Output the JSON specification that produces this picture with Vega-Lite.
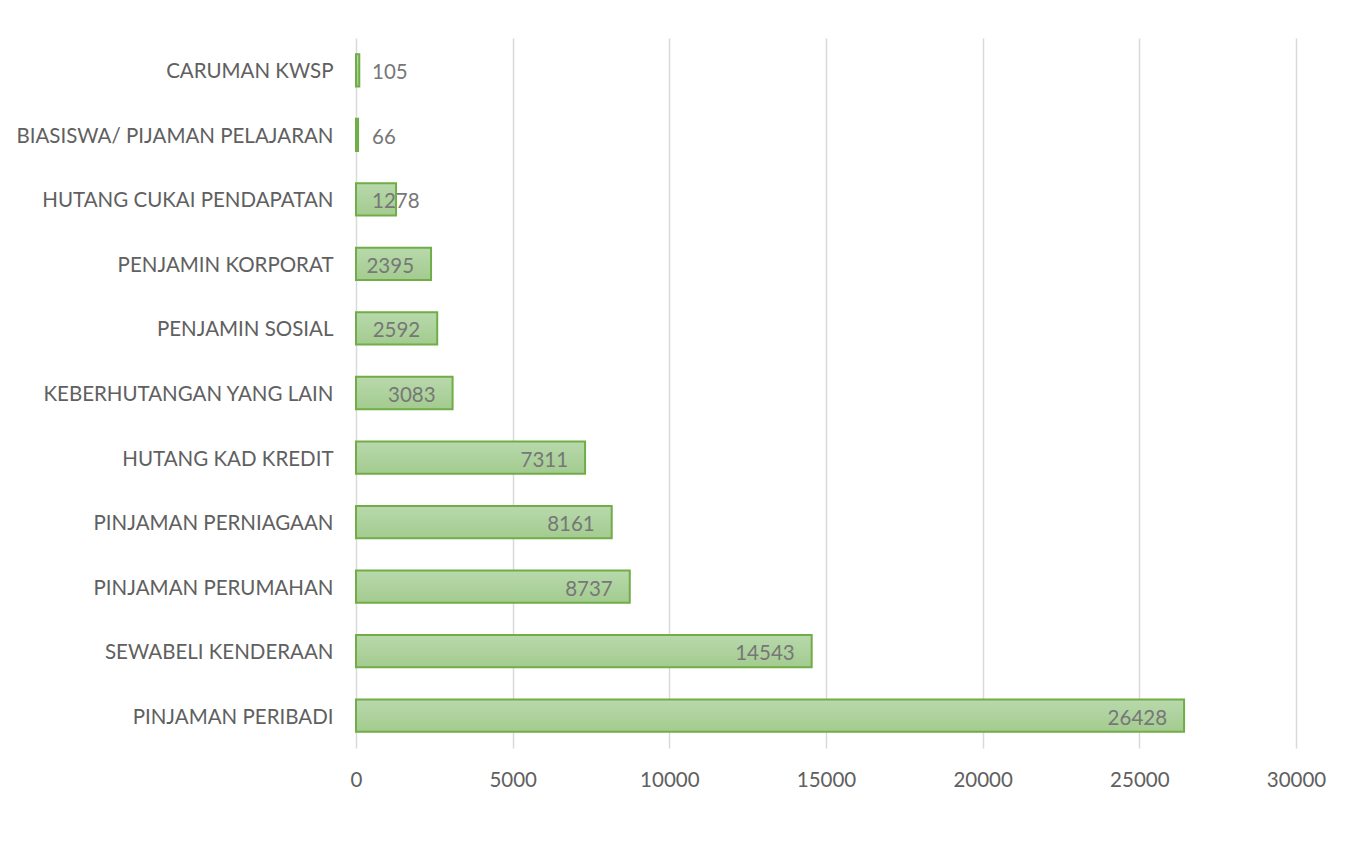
{
  "$schema": "https://vega.github.io/schema/vega-lite/v6.json",
  "width": 940,
  "height": 710,
  "autosize": {"type": "none"},
  "padding": {"left": 356, "top": 38, "right": 53, "bottom": 104},
  "background": "white",
  "data": {"values": [
    {"kategori": "CARUMAN KWSP", "nilai": 105},
    {"kategori": "BIASISWA/ PIJAMAN PELAJARAN", "nilai": 66},
    {"kategori": "HUTANG CUKAI PENDAPATAN", "nilai": 1278},
    {"kategori": "PENJAMIN KORPORAT", "nilai": 2395},
    {"kategori": "PENJAMIN SOSIAL", "nilai": 2592},
    {"kategori": "KEBERHUTANGAN YANG LAIN", "nilai": 3083},
    {"kategori": "HUTANG KAD KREDIT", "nilai": 7311},
    {"kategori": "PINJAMAN PERNIAGAAN", "nilai": 8161},
    {"kategori": "PINJAMAN PERUMAHAN", "nilai": 8737},
    {"kategori": "SEWABELI KENDERAAN", "nilai": 14543},
    {"kategori": "PINJAMAN PERIBADI", "nilai": 26428}
  ]},
  "encoding": {
    "y": {"field": "kategori", "type": "nominal", "sort": null,
      "scale": {"paddingInner": 0.5, "paddingOuter": 0.25},
      "axis": {"title": null, "domain": false, "ticks": false, "labelPadding": 23, "labelOffset": 2,
        "labelFont": "Lato", "labelFontSize": 20.5, "labelColor": "#606060", "labelLimit": 400}},
    "x": {"field": "nilai", "type": "quantitative",
      "scale": {"domain": [0, 30000], "nice": false},
      "axis": {"title": null, "domain": false, "ticks": false, "values": [0, 5000, 10000, 15000, 20000, 25000, 30000],
        "format": "d", "labelPadding": 22, "labelFont": "Lato", "labelFontSize": 20.5, "labelColor": "#606060",
        "gridColor": "#d9d9d9", "gridWidth": 1.5, "labelFlush": false}}
  },
  "layer": [
    {"mark": {"type": "bar", "stroke": "#70ad47", "strokeWidth": 2,
      "fill": {"gradient": "linear", "x1": 0, "y1": 0, "x2": 0, "y2": 1,
        "stops": [{"offset": 0, "color": "#b8d9ac"}, {"offset": 1, "color": "#a3cb8f"}]}}},
    {"transform": [{"filter": "datum.nilai >= 2000"}],
      "mark": {"type": "text", "align": "right", "dx": -17, "dy": 3, "font": "Lato", "fontSize": 20.5, "color": "#777777"},
      "encoding": {"text": {"field": "nilai", "type": "quantitative", "format": "d"}}},
    {"transform": [{"filter": "datum.nilai < 2000"}],
      "mark": {"type": "text", "align": "left", "dx": 16, "dy": 3, "font": "Lato", "fontSize": 20.5, "color": "#777777"},
      "encoding": {"x": {"datum": 0}, "text": {"field": "nilai", "type": "quantitative", "format": "d"}}}
  ],
  "config": {"view": {"stroke": null}}
}
